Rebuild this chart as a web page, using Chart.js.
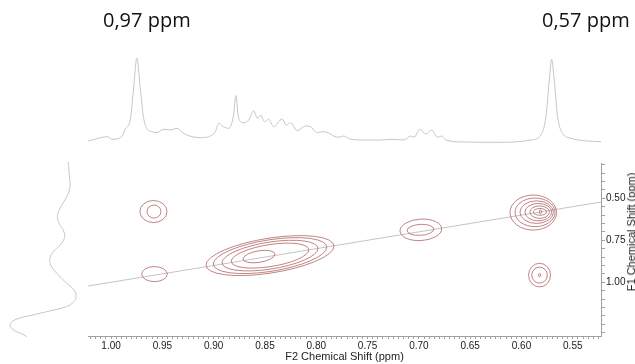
<!DOCTYPE html>
<html>
<head>
<meta charset="utf-8">
<script src="https://cdn.jsdelivr.net/npm/chart.js@4/dist/chart.umd.min.js"></script>
<style>
  body { margin: 0; background: #fff; }
  #wrap { position: relative; width: 635px; height: 364px; overflow: hidden; }
  canvas { position: absolute; }
  .peak { position: absolute; font-family: "Open Sans"; font-size: 20px; line-height: 20px; color: #111; white-space: nowrap; }
  #f1title { position: absolute; left: 631px; top: 232px; transform: translate(-50%, -50%) rotate(-90deg);
             font-family: "Liberation Sans"; font-size: 11px; color: #222; white-space: nowrap; }
</style>
</head>
<body>
<div id="wrap">
  <canvas id="proj-f1" width="85" height="190" style="left:0;top:155px"></canvas>
  <canvas id="proj-f2" width="513" height="95" style="left:88px;top:50px"></canvas>
  <canvas id="map" width="635" height="364" style="left:0;top:0"></canvas>
  <div class="peak" style="left:103px;top:10px">0,97 ppm</div>
  <div class="peak" style="left:542px;top:10px">0,57 ppm</div>
  <div id="f1title">F1 Chemical Shift (ppm)</div>
</div>
<script>
// F2 projection (top trace): shift in ppm, intensity in arbitrary units
const topShift = [1.0222, 1.0032, 0.9993, 0.9896, 0.9863, 0.9814, 0.9782, 0.9749, 0.9717, 0.9685,
  0.9651, 0.9603, 0.9554, 0.9489, 0.9424, 0.9358, 0.9294, 0.9212, 0.9131, 0.9050,
  0.8984, 0.8952, 0.8919, 0.8855, 0.8806, 0.8784, 0.8757, 0.8708, 0.8659, 0.8610,
  0.8574, 0.8540, 0.8506, 0.8464, 0.8415, 0.8333, 0.8291, 0.8252, 0.8187, 0.8105,
  0.8057, 0.7991, 0.7942, 0.7894, 0.7829, 0.7780, 0.7731, 0.7666, 0.7536, 0.7373,
  0.7275, 0.7146, 0.7080, 0.7048, 0.6989, 0.6934, 0.6875, 0.6819, 0.6780, 0.6738,
  0.6560, 0.6169, 0.5908, 0.5811, 0.5762, 0.5729, 0.5706, 0.5681, 0.5648, 0.5599,
  0.5518, 0.5388, 0.5225];
const topIntensity = [1, 5.3, 2.7, 5.3, 13, 22, 52, 83.7, 55.3, 25.3,
  13.7, 10.3, 9.3, 12.7, 12, 13.7, 8.7, 5.3, 4.3, 5.3,
  10.3, 18.7, 16, 13.7, 27, 46.5, 23.7, 19.3, 22, 31.3,
  23.7, 26.8, 20.3, 22.7, 15.3, 23, 17, 19.3, 11.3, 16,
  15.3, 9.3, 10.3, 9.7, 6, 4.7, 6, 2.7, 2, 2,
  2.7, 2, 6, 4.7, 12.7, 8, 12, 4.7, 6, 2,
  0, -0.3, 2, 7, 25.3, 62, 82.7, 62, 25.3, 8.7,
  3.7, 1.3, 0.3];

// F1 projection (left trace)
const leftShift = [0.284, 0.363, 0.433, 0.492, 0.561, 0.611, 0.651, 0.701, 0.740, 0.780,
  0.820, 0.859, 0.899, 0.948, 1.008, 1.048, 1.088, 1.117, 1.147, 1.173,
  1.201, 1.226, 1.256, 1.286, 1.305, 1.326];
const leftIntensity = [11.7, 10.7, 10, 13.3, 20, 22.7, 20.7, 16, 15.7, 20,
  26.7, 30, 29.3, 23.3, 13.3, 6, 4, 6, 13.3, 30,
  50, 65, 70, 66.7, 60, 53.3];

// contour rings: centre (F2, F1), half widths in ppm, F1/F2 correlation
const contourF2 = [0.9587, 0.9582, 0.9577,
  0.8558, 0.8451, 0.8451, 0.8451, 0.8451,
  0.6981, 0.6985,
  0.5885, 0.5868, 0.5852, 0.5836, 0.5823, 0.5820, 0.5815,
  0.5824, 0.5824, 0.5824];
const contourF1 = [0.579, 0.579, 0.9515,
  0.8472, 0.8413, 0.8413, 0.8413, 0.8413,
  0.688, 0.688,
  0.585, 0.5838, 0.5826, 0.5826, 0.5826, 0.581, 0.5802,
  0.9575, 0.9575, 0.9575];
const contourHalfF2 = [0.0132, 0.0068, 0.0125,
  0.0156, 0.0378, 0.0468, 0.0553, 0.0624,
  0.0203, 0.013,
  0.0227, 0.0195, 0.0163, 0.013, 0.0095, 0.0065, 0.001,
  0.0107, 0.0076, 0.001];
const contourHalfF1 = [0.0656, 0.0387, 0.0447,
  0.0346, 0.0661, 0.0810, 0.0948, 0.1049,
  0.064, 0.0326,
  0.1043, 0.0852, 0.0673, 0.0518, 0.037, 0.02, 0.012,
  0.0703, 0.0477, 0.01];
const contourSkew = [0, 0, 0,
  0.9, 0.9, 0.9, 0.9, 0.9,
  0.3, 0.3,
  0, 0, 0, 0, 0, 0, 0,
  0, 0, 0];

// diagonal and axis ranges
const diagShift = [1.0225, 0.5225];
const f2Range = [0.5225, 1.0225];
const f1Range = [0.29, 1.32];
const f2Labels = ['1.00', '0.95', '0.90', '0.85', '0.80', '0.75', '0.70', '0.65', '0.60', '0.55'];
const f1Labels = ['0.50', '0.75', '1.00'];
const f2MinorStep = 0.005;
const f1MinorStep = 0.05;

Chart.defaults.font.family = 'Liberation Sans';

function minorTicks(lo, hi, step) {
  const out = [];
  for (let v = Math.ceil(lo / step) * step; v <= hi + 1e-9; v += step) out.push(Math.round(v * 10000) / 10000);
  return out;
}
const f2Ticks = minorTicks(f2Range[0], f2Range[1], f2MinorStep);
const f1Ticks = minorTicks(f1Range[0], f1Range[1], f1MinorStep);

// contour rings drawn as (sheared) ellipses through the chart scales
const contourPlugin = {
  id: 'contours',
  afterDatasetsDraw(chart) {
    const { ctx, chartArea } = chart;
    const x = chart.scales.x, y = chart.scales.y;
    const kx = x.getPixelForValue(1) - x.getPixelForValue(0);
    const ky = y.getPixelForValue(1) - y.getPixelForValue(0);
    ctx.save();
    ctx.beginPath();
    ctx.rect(chartArea.left, chartArea.top, chartArea.right - chartArea.left, chartArea.bottom - chartArea.top);
    ctx.clip();
    ctx.strokeStyle = '#b06464';
    ctx.lineWidth = 0.8;
    contourF2.forEach((f2, i) => {
      ctx.save();
      ctx.translate(x.getPixelForValue(f2), y.getPixelForValue(contourF1[i]));
      ctx.transform(kx * contourHalfF2[i], ky * contourSkew[i] * contourHalfF2[i], 0, ky * contourHalfF1[i], 0, 0);
      ctx.beginPath();
      ctx.arc(0, 0, 1, 0, Math.PI * 2);
      ctx.restore();
      ctx.stroke();
    });
    ctx.restore();
  }
};

const axisGrey = '#a0a0a0';

new Chart(document.getElementById('map'), {
  type: 'scatter',
  data: {
    datasets: [{
      data: diagShift.map(v => ({ x: v, y: v })),
      showLine: true,
      borderColor: '#c4c4c4',
      borderWidth: 1,
      pointRadius: 0
    }]
  },
  options: {
    responsive: false,
    animation: false,
    devicePixelRatio: 1,
    layout: { padding: { left: 88, top: 163, right: 0, bottom: 0 } },
    plugins: { legend: { display: false }, tooltip: { enabled: false } },
    scales: {
      x: {
        type: 'linear', position: 'bottom', reverse: true,
        min: f2Range[0], max: f2Range[1],
        afterBuildTicks: s => { s.ticks = f2Ticks.map(v => ({ value: v })); },
        afterFit: s => { s.height = 28; },
        grid: { drawOnChartArea: false, tickLength: 3, color: axisGrey },
        border: { color: axisGrey },
        ticks: {
          autoSkip: false, maxRotation: 0, padding: 1, color: '#222', font: { size: 10 },
          callback: v => {
            const t = v.toFixed(2);
            return Math.abs(v * 20 - Math.round(v * 20)) < 1e-6 && f2Labels.includes(t) ? t : '';
          }
        },
        title: { display: true, text: 'F2 Chemical Shift (ppm)', color: '#222', font: { size: 11 }, padding: { top: 0, bottom: 0 } }
      },
      y: {
        type: 'linear', position: 'right', reverse: true,
        min: f1Range[0], max: f1Range[1],
        afterBuildTicks: s => { s.ticks = f1Ticks.map(v => ({ value: v })); },
        afterFit: s => { s.width = 34; },
        grid: { drawOnChartArea: false, tickLength: 4, color: axisGrey },
        border: { color: axisGrey },
        ticks: {
          autoSkip: false, padding: 1, color: '#222', font: { size: 10 },
          callback: v => {
            const t = v.toFixed(2);
            return Math.abs(v * 4 - Math.round(v * 4)) < 1e-6 && f1Labels.includes(t) ? t : '';
          }
        }
      }
    }
  },
  plugins: [contourPlugin]
});

// top: F2 projection
new Chart(document.getElementById('proj-f2'), {
  type: 'scatter',
  data: {
    datasets: [{
      data: topShift.map((v, i) => ({ x: v, y: topIntensity[i] })),
      showLine: true,
      borderColor: '#c6c6c6',
      borderWidth: 1,
      pointRadius: 0,
      cubicInterpolationMode: 'monotone',
      clip: false
    }]
  },
  options: {
    responsive: false,
    animation: false,
    devicePixelRatio: 1,
    layout: { padding: 0 },
    plugins: { legend: { display: false }, tooltip: { enabled: false } },
    scales: {
      x: { display: false, type: 'linear', reverse: true, min: f2Range[0], max: f2Range[1] },
      y: { display: false, min: -3, max: 92 }
    }
  }
});

// left: F1 projection
new Chart(document.getElementById('proj-f1'), {
  type: 'scatter',
  data: {
    datasets: [{
      data: leftShift.map((v, i) => ({ x: leftIntensity[i], y: v })),
      showLine: true,
      borderColor: '#c6c6c6',
      borderWidth: 1,
      pointRadius: 0,
      tension: 0.4,
      clip: false
    }]
  },
  options: {
    responsive: false,
    animation: false,
    devicePixelRatio: 1,
    layout: { padding: 0 },
    plugins: { legend: { display: false }, tooltip: { enabled: false } },
    scales: {
      x: { display: false, type: 'linear', reverse: true, min: -5, max: 80 },
      y: { display: false, type: 'linear', reverse: true, min: 0.2422, max: 1.3766 }
    }
  }
});
</script>
</body>
</html>
